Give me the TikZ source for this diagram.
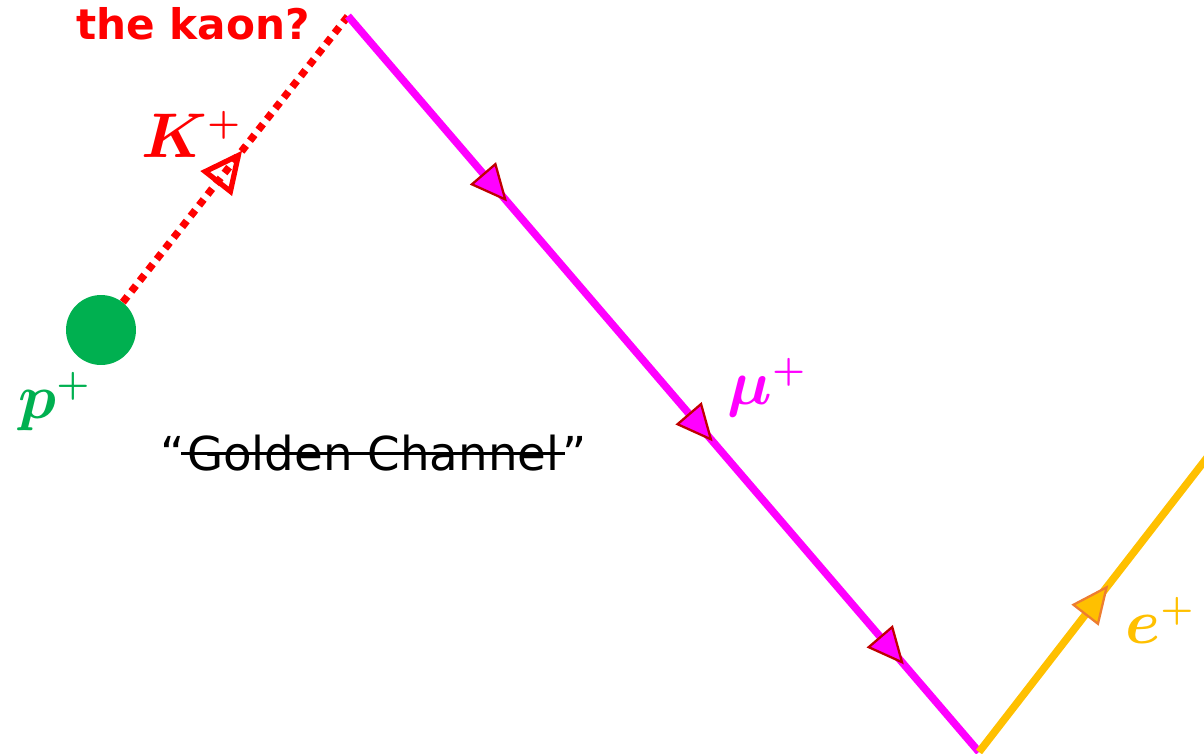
\documentclass[tikz,border=0pt]{standalone}
\usepackage{fontspec}
\usetikzlibrary{arrows.meta, decorations.markings, positioning}
\usepackage{xcolor}
\newfontfamily\dejavu{DejaVu Sans}
\definecolor{kaonc}{HTML}{FF0000}
\definecolor{muonc}{HTML}{FF00FF}
\definecolor{muedge}{HTML}{C00000}
\definecolor{protc}{HTML}{00B050}
\definecolor{posc}{HTML}{FFC000}
\definecolor{posedge}{HTML}{ED7D31}

\begin{document}
\begin{tikzpicture}[
    x=0.02cm, y=-0.02cm,
    ktip/.tip={Triangle[open, length=8.4mm, width=7.8mm, line width=3pt, color=kaonc]},
    mutip/.tip={Triangle[length=7.4mm, width=6.8mm, line width=1.3pt, color=muedge, fill=muonc]},
    etip/.tip={Triangle[length=7.6mm, width=6.8mm, line width=1.3pt, color=posedge, fill=posc]},
    lbl/.style={anchor=base west, inner sep=0pt, scale=2.08, font=\LARGE\boldmath},
    gctxt/.style={inner sep=0pt, font=\dejavu\fontsize{26.6}{30}\selectfont},
    kaon/.style={kaonc, line width=4.2pt, dash pattern=on 4.2pt off 3.6pt,
      postaction={decorate, decoration={markings,
        mark=at position 0.53 with {\arrow{ktip}}}}},
    muon/.style={muonc, line width=4.3pt,
      postaction={decorate, decoration={markings,
        mark=at position 0.252 with {\arrow{mutip}},
        mark=at position 0.578 with {\arrow{mutip}},
        mark=at position 0.881 with {\arrow{mutip}}}}},
    posi/.style={posc, line width=4.3pt,
      postaction={decorate, decoration={markings,
        mark=at position 0.515 with {\arrow{etip}}}}}]

  \clip (0,0) rectangle (1204,754);

  % proton and decay vertices
  \node[circle, fill=protc, minimum size=1.4cm, inner sep=0pt] (p) at (101,330) {};
  \coordinate (kdec) at (348,16);
  \coordinate (mudec) at (979,752);
  \coordinate (eout) at (1230,428);

  % tracks: K+ -> mu+ -> e+
  \draw[kaon] (p) -- (kdec);
  \draw[muon] (kdec) -- (mudec);
  \draw[posi] (mudec) -- (eout);

  % labels
  \node[anchor=base west, kaonc, font=\dejavu\bfseries\fontsize{24}{28}\selectfont] (q) at (70,39) {the kaon?};
  \node[lbl, kaonc] (kl) at (141,157) {$K^{\scriptscriptstyle +}$};
  \node[lbl, protc] (pl) at (18,418) {$p^{\scriptscriptstyle +}$};
  \node[lbl, muonc] (ml) at (727,404) {$\mu^{\scriptscriptstyle +}$};
  \node[lbl, posc] (el) at (1125,643) {$e^{\scriptscriptstyle +}$};

  % struck-out name, in quotes
  \node[gctxt, anchor=base west] (lq) at (160,470) {“};
  \node[gctxt, base right=1pt of lq] (gc) {Golden Channel};
  \node[gctxt, base right=1pt of gc] (rq) {”};
  \draw[line width=1.6pt] ([shift={(-3pt,9.5pt)}]gc.base west) -- ([shift={(3pt,9.5pt)}]gc.base east);
\end{tikzpicture}
\end{document}
